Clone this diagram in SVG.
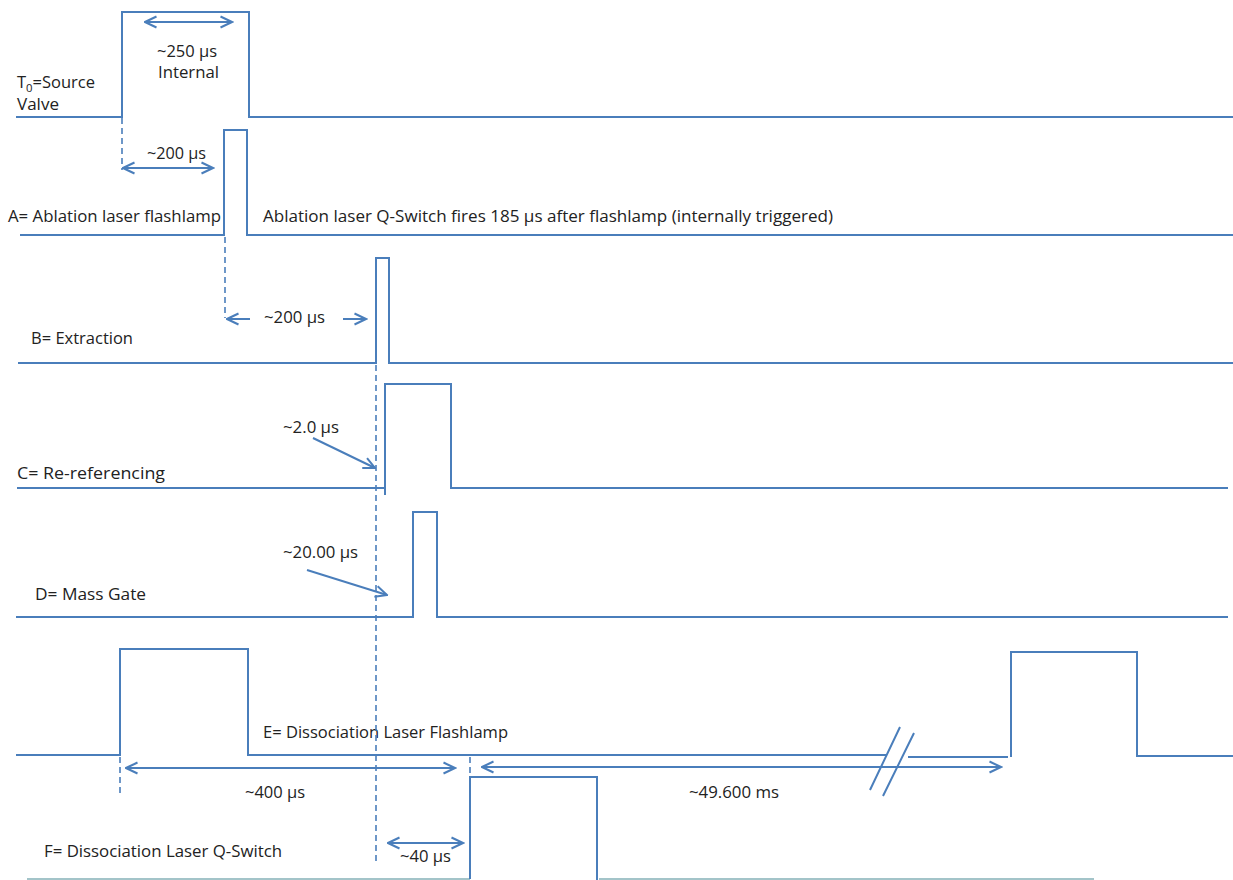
<svg xmlns="http://www.w3.org/2000/svg" width="1233" height="880" viewBox="0 0 1233 880">
<defs>
<marker id="ah" markerUnits="userSpaceOnUse" markerWidth="14" markerHeight="14" viewBox="0 0 14 14" refX="12.5" refY="7" orient="auto-start-reverse">
<path d="M1,1.5 L12.5,7 L1,12.5" fill="none" stroke="#4a7ebb" stroke-width="2"/>
</marker>
</defs>
<style>
.sig{fill:none;stroke:#4a7ebb;stroke-width:2}
.base{fill:none;stroke:#a3c4c9;stroke-width:2}
.dash{fill:none;stroke:#4a7ebb;stroke-width:1.6;stroke-dasharray:6 4}
.arr{fill:none;stroke:#4a7ebb;stroke-width:2}
text{font-family:"Open Sans","Liberation Sans",sans-serif;font-size:16px;fill:#222}
</style>
<rect width="1233" height="880" fill="#fff"/>
<g id="T0">
<path class="sig" d="M16,117 H122 V12 H249 V117 H1233"/>
<text x="17" y="88" textLength="78" lengthAdjust="spacingAndGlyphs">T<tspan font-size="11" dy="4">0</tspan><tspan dy="-4">=Source</tspan></text>
<text x="17" y="110" textLength="42" lengthAdjust="spacingAndGlyphs">Valve</text>
<text x="157" y="57" textLength="60" lengthAdjust="spacingAndGlyphs">~250 µs</text>
<text x="158" y="78" textLength="61" lengthAdjust="spacingAndGlyphs">Internal</text>
</g>
<g id="A">
<path class="sig" d="M20,235 H224 V130 H247 V235 H1233"/>
<text x="8" y="222" textLength="213" lengthAdjust="spacingAndGlyphs">A= Ablation laser flashlamp</text>
<text x="263" y="222" textLength="570" lengthAdjust="spacingAndGlyphs">Ablation laser Q-Switch fires 185 µs after flashlamp (internally triggered)</text>
<text x="147" y="159" textLength="59" lengthAdjust="spacingAndGlyphs">~200 µs</text>
</g>
<g id="B">
<path class="sig" d="M18,363 H376 V258 H389 V363 H1233"/>
<text x="31" y="344" textLength="102" lengthAdjust="spacingAndGlyphs">B= Extraction</text>
<text x="264" y="323" textLength="61" lengthAdjust="spacingAndGlyphs">~200 µs</text>
</g>
<g id="C">
<path class="sig" d="M17,488 H385"/>
<path class="sig" d="M385,495 V384 H451 V488 H1228"/>
<text x="17" y="479" textLength="148" lengthAdjust="spacingAndGlyphs">C= Re-referencing</text>
<text x="283" y="433" textLength="56" lengthAdjust="spacingAndGlyphs">~2.0 µs</text>
</g>
<g id="D">
<path class="sig" d="M16,617 H413 V512 H437 V617 H1228"/>
<text x="35" y="600" textLength="111" lengthAdjust="spacingAndGlyphs">D= Mass Gate</text>
<text x="283" y="558" textLength="75" lengthAdjust="spacingAndGlyphs">~20.00 µs</text>
</g>
<g id="E">
<path class="sig" d="M16,755 H120 V649 H248 V755 H887"/>
<path class="sig" d="M908,757 H1008"/>
<path class="sig" d="M1011,757 V652 H1137 V756 H1233"/>
<path class="sig" d="M870,790 L900,727 M883,796 L914,733"/>
<text x="263" y="738" textLength="245" lengthAdjust="spacingAndGlyphs">E= Dissociation Laser Flashlamp</text>
<text x="245" y="798" textLength="60" lengthAdjust="spacingAndGlyphs">~400 µs</text>
<text x="689" y="798" textLength="90" lengthAdjust="spacingAndGlyphs">~49.600 ms</text>
</g>
<g id="F">
<path class="base" d="M27,879 H470 M599,879 H1094"/>
<path class="sig" d="M470,879 V777 H597 V880"/>
<text x="44" y="857" textLength="238" lengthAdjust="spacingAndGlyphs">F= Dissociation Laser Q-Switch</text>
<text x="400" y="862" textLength="51" lengthAdjust="spacingAndGlyphs">~40 µs</text>
</g>
<g id="connectors">
<path class="dash" d="M122,118 V170"/>
<path class="dash" d="M225,237 V318"/>
<path class="dash" d="M376,365 V865"/>
<path class="dash" d="M120,757 V795"/>
<path class="dash" d="M470,757 V775"/>
<path class="arr" d="M145,22 H232" marker-start="url(#ah)" marker-end="url(#ah)"/>
<path class="arr" d="M123,168 H213" marker-start="url(#ah)" marker-end="url(#ah)"/>
<path class="arr" d="M250,319 H227" marker-end="url(#ah)"/>
<path class="arr" d="M343,319 H366" marker-end="url(#ah)"/>
<path class="arr" d="M313,438 L375,468" marker-end="url(#ah)"/>
<path class="arr" d="M307,570 L387,595" marker-end="url(#ah)"/>
<path class="arr" d="M126,768 H455" marker-start="url(#ah)" marker-end="url(#ah)"/>
<path class="arr" d="M482,767 H1001" marker-start="url(#ah)" marker-end="url(#ah)"/>
<path class="arr" d="M388,843 H463" marker-start="url(#ah)" marker-end="url(#ah)"/>
</g>
</svg>
